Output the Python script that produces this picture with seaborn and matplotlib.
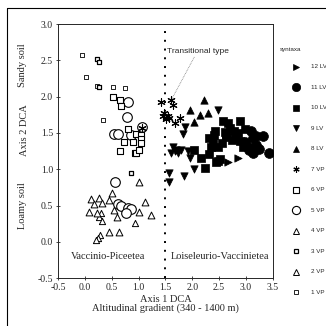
import numpy as np
import pandas as pd
import seaborn as sns
import matplotlib
matplotlib.use("Agg")
import matplotlib.pyplot as plt
from matplotlib.lines import Line2D

# ---- data ----
vp1_x = [-0.05, 0.03, 0.22, 0.53, 0.75, 0.33]
vp1_y = [2.57, 2.27, 2.15, 2.13, 2.12, 1.68]
vp3_x = [0.23, 0.27, 0.27, 0.85]
vp3_y = [2.52, 2.48, 2.14, 0.95]
vp6_x = [0.52, 0.65, 0.67, 0.80, 0.94, 0.90, 0.73, 0.65, 0.96, 0.95, 1.04, 1.04, 1.04, 1.01]
vp6_y = [2.00, 1.96, 1.87, 1.55, 1.23, 1.37, 1.37, 1.25, 1.22, 1.48, 1.47, 1.41, 1.36, 1.27]
vp5_x = [0.81, 0.78, 0.55, 0.61, 0.86, 1.06, 0.57, 0.61, 0.67, 0.80, 0.86, 0.76]
vp5_y = [1.93, 1.72, 1.48, 1.48, 1.47, 1.58, 0.83, 0.52, 0.49, 0.46, 0.45, 0.40]
vp4_x = [1.01, 0.50, 0.12, 0.27, 0.17, 0.31, 0.44, 1.12, 0.08, 0.22, 1.01, 1.24, 0.55, 0.59, 0.45, 0.64]
vp4_y = [0.82, 0.67, 0.59, 0.61, 0.52, 0.53, 0.57, 0.55, 0.41, 0.40, 0.41, 0.37, 0.44, 0.34, 0.14, 0.14]
vp2_x = [0.27, 0.32, 0.28, 0.25, 0.20, 0.30, 0.94]
vp2_y = [0.34, 0.29, 0.10, 0.05, 0.02, 0.40, 0.26]
vp7_x = [1.41, 1.61, 1.64, 1.48, 1.54, 1.45, 1.57, 1.51, 1.78, 1.67, 1.06]
vp7_y = [1.92, 1.96, 1.88, 1.77, 1.74, 1.73, 1.71, 1.69, 1.71, 1.64, 1.57]
lv8_x = [2.22, 1.96, 2.30, 2.15, 2.03]
lv8_y = [1.96, 1.82, 1.78, 1.75, 1.65]
lv9_x = [2.47, 1.87, 1.82, 1.64, 1.67, 1.73, 1.61, 1.70, 1.92, 1.95, 1.56, 1.57, 1.84, 2.03, 1.79]
lv9_y = [1.82, 1.58, 1.48, 1.30, 1.25, 1.23, 1.23, 1.26, 1.25, 1.16, 0.95, 0.83, 0.90, 1.00, 1.27]
lv10_x = [2.57, 2.66, 2.88, 2.70, 2.78, 2.98, 2.43, 2.32, 2.79, 2.88, 2.38, 2.34, 2.48, 2.95,
          2.17, 2.32, 2.48, 2.51, 2.23, 2.04, 2.60, 2.62, 2.85, 2.74, 2.40, 2.55, 2.45, 2.63]
lv10_y = [1.67, 1.64, 1.67, 1.57, 1.53, 1.55, 1.53, 1.43, 1.43, 1.39, 1.37, 1.30, 1.30, 1.31,
          1.16, 1.21, 1.12, 1.14, 1.02, 1.27, 1.52, 1.45, 1.50, 1.40, 1.47, 1.36, 1.10, 1.48]
lv11_x = [3.10, 3.13, 3.19, 3.32, 3.04, 3.13, 3.19, 3.42, 2.98, 3.06, 3.25]
lv11_y = [1.53, 1.43, 1.46, 1.46, 1.30, 1.23, 1.34, 1.23, 1.38, 1.27, 1.28]
lv12_x = [2.66, 2.86]
lv12_y = [1.10, 1.15]

legend_labels = ["12 LV", "11 LV", "10 LV", "9 LV", "8 LV", "7 VP",
                 "6 VP", "5 VP", "4 VP", "3 VP", "2 VP", "1 VP"]
x_ticks = [-0.5, 0.0, 0.5, 1.0, 1.5, 2.0, 2.5, 3.0, 3.5]
y_ticks = [-0.5, 0.0, 0.5, 1.0, 1.5, 2.0, 2.5, 3.0]

groups = {
    "12 LV": (lv12_x, lv12_y), "11 LV": (lv11_x, lv11_y), "10 LV": (lv10_x, lv10_y),
    "9 LV": (lv9_x, lv9_y), "8 LV": (lv8_x, lv8_y), "7 VP": (vp7_x, vp7_y),
    "6 VP": (vp6_x, vp6_y), "5 VP": (vp5_x, vp5_y), "4 VP": (vp4_x, vp4_y),
    "3 VP": (vp3_x, vp3_y), "2 VP": (vp2_x, vp2_y), "1 VP": (vp1_x, vp1_y),
}

# marker, size(s), face ("black"/"white"/None for line markers), edge width
styles = {
    "12 LV": (">", 28, "black", 0.5),
    "11 LV": ("o", 50, "black", 0.5),
    "10 LV": ("s", 28, "black", 0.5),
    "9 LV": ("v", 28, "black", 0.5),
    "8 LV": ("^", 28, "black", 0.5),
    "7 VP": ((6, 2, 0), 28, None, 0.8),
    "6 VP": ("s", 20, "white", 0.8),
    "5 VP": ("o", 48, "white", 0.8),
    "4 VP": ("^", 24, "white", 0.7),
    "3 VP": ("s", 10, "white", 0.9),
    "2 VP": ("^", 20, "white", 0.7),
    "1 VP": ("s", 10, "white", 0.6),
}

rows = []
for lab, (xs, ys) in groups.items():
    for a, b in zip(xs, ys):
        rows.append({"x": a, "y": b, "syntaxa": lab})
df = pd.DataFrame(rows)

sns.set_style("ticks")
plt.rcParams["font.family"] = ["Liberation Serif", "DejaVu Serif"]

fig = plt.figure(figsize=(3.26, 3.26), dpi=100)
ax = fig.add_axes([0.178, 0.147, 0.659, 0.779])

for lab in legend_labels[::-1]:
    m, s, face, lw = styles[lab]
    sub = df[df["syntaxa"] == lab]
    if face is None:
        sns.scatterplot(data=sub, x="x", y="y", ax=ax, marker=m, s=s,
                        color="black", linewidth=lw, legend=False, zorder=3)
    else:
        sns.scatterplot(data=sub, x="x", y="y", ax=ax, marker=m, s=s,
                        color=face, edgecolor="black", linewidth=lw,
                        legend=False, zorder=3)

ax.set_xlim(-0.5, 3.5)
ax.set_ylim(-0.5, 3.0)
ax.set_xticks(x_ticks)
ax.set_yticks(y_ticks)
ax.set_xticklabels([f"{t:.1f}" for t in x_ticks])
ax.set_yticklabels([f"{t:.1f}" for t in y_ticks])
ax.tick_params(direction="inout", length=3, width=0.6, labelsize=7, pad=2)
for sp in ax.spines.values():
    sp.set_linewidth(0.7)
    sp.set_visible(True)

ax.set_xlabel("Axis 1 DCA\nAltitudinal gradient (340 - 1400 m)", fontsize=7.5,
              linespacing=1.0, labelpad=2)
ax.set_ylabel("")

# vertical dotted divider
ax.axvline(1.5, color="black", linestyle=(0, (1, 3.5)), linewidth=1.4, zorder=2)

# annotations
ax.text(1.53, 2.62, "Transitional type", fontsize=6, ha="left", va="center",
        family=["Liberation Sans", "DejaVu Sans"])
ax.plot([1.62, 2.04], [1.97, 2.55], color="0.5", linestyle=(0, (1, 1)), linewidth=0.6)
ax.text(0.43, -0.2, "Vaccinio-Piceetea", fontsize=7.5, ha="center", va="center")
ax.text(2.52, -0.2, "Loiseleurio-Vaccinietea", fontsize=7.5, ha="center", va="center")

# y-axis side labels
fig.text(0.068, 0.80, "Sandy soil", rotation=90, ha="center", va="center", fontsize=7.5)
fig.text(0.075, 0.60, "Axis 2 DCA", rotation=90, ha="center", va="center", fontsize=7.5)
fig.text(0.068, 0.37, "Loamy soil", rotation=90, ha="center", va="center", fontsize=7.5)

# legend
fig.text(0.89, 0.847, "syntaxa", fontsize=4.5, ha="center", va="center",
         family=["Liberation Sans", "DejaVu Sans"])
y0 = 0.795
step = 20.5 / 326
for i, lab in enumerate(legend_labels):
    m, s, face, lw = styles[lab]
    yy = y0 - i * step
    ms = np.sqrt(s) * (0.85 if lab not in ("3 VP", "1 VP") else 1.0)
    if face is None:
        ln = Line2D([0.908], [yy], transform=fig.transFigure, marker=m, markersize=ms,
                    color="black", markeredgewidth=lw, linestyle="none")
    else:
        ln = Line2D([0.908], [yy], transform=fig.transFigure, marker=m, markersize=ms,
                    markerfacecolor=face, markeredgecolor="black",
                    markeredgewidth=lw, linestyle="none")
    fig.lines.append(ln)
    fig.text(0.955, yy, lab, fontsize=4.5, ha="left", va="center",
             family=["Liberation Sans", "DejaVu Sans"])

# figure border lines (scan frame)
fig.lines.append(Line2D([0.02, 1.0], [0.975, 0.975], transform=fig.transFigure,
                        color="black", linewidth=0.8))
fig.lines.append(Line2D([0.02, 0.02], [0.0, 0.975], transform=fig.transFigure,
                        color="black", linewidth=0.8))

fig.savefig("out.png", dpi=100)
